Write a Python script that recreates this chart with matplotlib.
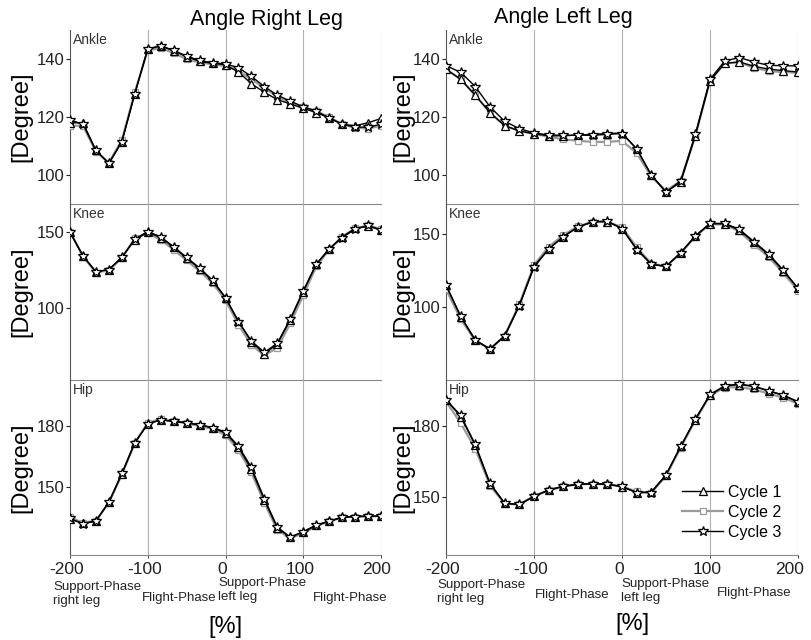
import matplotlib
matplotlib.use("Agg")
import matplotlib.pyplot as plt
from matplotlib.lines import Line2D
from matplotlib.ticker import FuncFormatter
from matplotlib.transforms import ScaledTranslation

plt.rcParams['font.family'] = ['Liberation Sans', 'DejaVu Sans']
plt.rcParams['axes.unicode_minus'] = False

# ---------------- data ----------------
x_pct = [-200, -183.3, -166.7, -150, -133.3, -116.7, -100, -83.3, -66.7, -50, -33.3, -16.7,
         0, 16.7, 33.3, 50, 66.7, 83.3, 100, 116.7, 133.3, 150, 166.7, 183.3, 200]

cycle_labels = ["Cycle 1", "Cycle 2", "Cycle 3"]
column_titles = ["Angle Right Leg", "Angle Left Leg"]
joint_names = ["Ankle", "Knee", "Hip"]
xticks = [-200, -100, 0, 100, 200]

# Right leg
r_ankle_c1 = [118, 118, 108.5, 104, 111.5, 128, 143.5, 144.5, 142.8, 140.8, 139.2, 138.5, 138,
              135.5, 131.5, 128.5, 126, 124.5, 123, 121.5, 119.7, 117.5, 117, 118, 119.5]
r_ankle_c2 = [117, 117, 108, 104.3, 112, 128.5, 143, 143.8, 142, 140, 138.8, 138.2, 137.5,
              136, 133, 130, 127, 125, 123.5, 122, 120, 117.5, 116.3, 116, 117]
r_ankle_c3 = [119, 117.5, 108.5, 104, 111.5, 128, 143.5, 144.5, 143, 141, 139.5, 138.7, 138.3,
              137, 134, 130.5, 127.5, 125.5, 123.5, 122, 119.7, 117.5, 116.5, 116.5, 117.5]

r_knee_c1 = [150, 134.5, 124, 125.5, 133.5, 145, 150, 146.5, 140, 133, 126, 118, 107,
             91.5, 78, 70, 76.5, 92.5, 111, 129, 139, 147, 152.5, 154, 151.5]
r_knee_c2 = [150.5, 134, 123.5, 125, 133, 146, 149.5, 145, 138.5, 131.5, 124.5, 116.5, 105.5,
             89, 76, 69, 74, 90, 108.5, 127.5, 138.5, 147, 152.5, 154.5, 152]
r_knee_c3 = [150, 134.5, 124, 125.5, 133.5, 145.5, 150.5, 147, 140.5, 133.5, 126.5, 118.5, 107,
             91, 78.5, 71, 77, 93, 111.5, 129, 139, 146.5, 152, 154.5, 151.5]

r_hip_c1 = [134, 131.8, 133, 142.2, 156.3, 171.5, 181, 183, 182.3, 181.6, 180.5, 179.1, 176.5,
            169.4, 158.6, 143.4, 129.5, 125, 127.6, 130.8, 132.8, 134.8, 135.2, 135.3, 135.4]
r_hip_c2 = [135, 132, 133.2, 142, 156, 171.5, 181.5, 183.5, 182.5, 181.2, 180, 178.5, 175.5,
            168, 157, 142, 128.5, 124.5, 127, 130.5, 132.8, 134.8, 135.2, 135.3, 135.4]
r_hip_c3 = [134.3, 131.6, 133, 142.4, 156.5, 171.8, 181, 183, 182.2, 181.5, 180.5, 179.2, 177,
            170, 159.5, 144, 130, 125, 127.8, 131, 133, 134.8, 135.2, 135.4, 135.4]

# Left leg
l_ankle_c1 = [136.5, 133, 127.5, 121.5, 117, 115.2, 114.2, 113.5, 113.5, 113.8, 114, 114.3, 114.5,
              109, 100, 94.2, 97.5, 113.5, 132.5, 138.5, 139, 137.5, 136.5, 136, 135.5]
l_ankle_c2 = [136.5, 133, 127.5, 121.5, 117, 115.2, 114.2, 113.2, 112.3, 111.8, 111.4, 111.4, 111.8,
              107.5, 99.5, 94.5, 98, 113.5, 132.5, 138.5, 138.8, 137, 135.8, 135.5, 135.3]
l_ankle_c3 = [137.7, 135.4, 130.5, 123.5, 118.5, 116, 114.5, 113.8, 113.7, 113.7, 113.7, 114, 114.3,
              109, 100, 94, 98, 114, 133, 139.3, 140.5, 139, 137.8, 137.7, 137.6]

l_knee_c1 = [115, 93.6, 77.5, 71.5, 80.5, 101.5, 128, 140, 148.5, 155, 158.5, 158.8, 154,
             140, 129.5, 128, 137.3, 148.7, 157.3, 157.2, 153, 144.5, 136, 125, 113]
l_knee_c2 = [112.3, 92, 77, 71.5, 80.5, 102, 129, 141.5, 149.5, 155.5, 158.5, 158.5, 155,
             141, 130, 128, 137, 148.5, 157, 156.8, 152, 143, 134.5, 123.5, 111.5]
l_knee_c3 = [115.3, 94, 77.5, 71.3, 80.3, 101, 127.5, 140, 148.3, 155, 158.8, 159, 154,
             139.5, 129.5, 128, 137.5, 149, 157.5, 157.5, 153.5, 145, 136.5, 125.5, 113]

l_hip_c1 = [191.2, 184, 172, 155.6, 147.5, 147, 150.4, 153, 154.6, 155.5, 155.7, 155.5, 154.5,
            152, 152.3, 159.5, 171.5, 182.8, 193.2, 196.9, 197.6, 196.7, 194.9, 193, 190.2]
l_hip_c2 = [190.5, 181.3, 170.5, 155, 147.3, 147, 150.6, 153, 154.6, 155.5, 155.7, 155.5, 154.5,
            152.5, 152, 159, 171, 182.5, 193, 196.3, 196.5, 195.5, 193.8, 192, 189.5]
l_hip_c3 = [191.2, 184.6, 172.3, 156, 147.5, 147, 150.4, 153.2, 154.7, 155.6, 155.8, 155.6, 154.6,
            152, 152, 159.5, 171.5, 183, 193.4, 197, 197.8, 196.9, 195, 193.1, 190.4]

right_leg = [[r_ankle_c1, r_ankle_c2, r_ankle_c3],
             [r_knee_c1, r_knee_c2, r_knee_c3],
             [r_hip_c1, r_hip_c2, r_hip_c3]]
left_leg = [[l_ankle_c1, l_ankle_c2, l_ankle_c3],
            [l_knee_c1, l_knee_c2, l_knee_c3],
            [l_hip_c1, l_hip_c2, l_hip_c3]]

right_ylims = [(90, 150), (52.8, 168.6), (116.2, 202.7)]
left_ylims = [(90, 150), (50.2, 170.8), (125.7, 199.5)]
yticks_rows = [[100, 120, 140], [100, 150], [150, 180]]

phase_texts = ["Support-Phase\nright leg", "Flight-Phase", "Support-Phase\nleft leg", "Flight-Phase"]

# ---------------- style ----------------
W, H = 811, 640
styles = [dict(color='black', marker='^', lw=1.0, ms=5.5, mfc='white', mec='black', mew=0.9),
          dict(color='#9a9a9a', marker='s', lw=1.6, ms=5, mfc='white', mec='#9a9a9a', mew=0.9),
          dict(color='black', marker='*', lw=1.0, ms=7, mfc='white', mec='black', mew=0.9)]

fig = plt.figure(figsize=(W / 100, H / 100), dpi=100)


def px_axes(x0, y0, x1, y1):
    return fig.add_axes([x0 / W, 1 - y1 / H, (x1 - x0) / W, (y1 - y0) / H])


col_x = [(70, 381), (446, 798)]
row_y = [(30, 204), (204, 380), (380, 555)]
label_right_edge = [32, 414]
datasets = [right_leg, left_leg]
ylims_all = [right_ylims, left_ylims]
axes = [[None] * 3 for _ in range(2)]

fmt = FuncFormatter(lambda v, p: "%d" % v)

for c in range(2):
    for r in range(3):
        x0, x1 = col_x[c]
        y0, y1 = row_y[r]
        ax = px_axes(x0, y0, x1, y1)
        axes[c][r] = ax
        for k in range(3):
            ax.plot(x_pct, datasets[c][r][k], zorder=3 + (k != 1), **styles[k])
        ax.set_xlim(-200, 200)
        ax.set_ylim(*ylims_all[c][r])
        ax.set_yticks(yticks_rows[r])
        ax.set_xticks(xticks)
        ax.xaxis.set_major_formatter(fmt)
        for xv in [-100, 0, 100, 200]:
            ax.axvline(xv, color='#b0b0b0', lw=0.8, zorder=1)
        ax.spines['top'].set_visible(False)
        ax.spines['right'].set_visible(False)
        ax.spines['left'].set_color('#555555')
        ax.spines['bottom'].set_color('#888888')
        ax.tick_params(axis='y', direction='out', length=3, width=0.8, labelsize=12, pad=1,
                       colors='#222222')
        ax.tick_params(axis='x', direction='out', length=2, width=0.6, labelsize=12.5, pad=3,
                       colors='#222222')
        if r < 2:
            ax.tick_params(axis='x', labelbottom=False, length=0)
        ax.set_ylabel("[Degree]", fontsize=17)
        lx = (label_right_edge[c] - x0) / (x1 - x0)
        ax.yaxis.set_label_coords(lx, 0.5)
        ax.text(0.008, 0.985, joint_names[r], transform=ax.transAxes, fontsize=10,
                va='top', ha='left', color='#333333')
        ax.set_facecolor('none')

# nudge the bottom tick labels slightly left, as in the reference
for c in range(2):
    ax = axes[c][2]
    fig.canvas.draw()
    for i, lab in enumerate(ax.get_xticklabels()):
        dx = -3 / 100 if i < len(xticks) - 1 else -(4 if c == 0 else 8) / 100
        lab.set_transform(lab.get_transform() + ScaledTranslation(dx, 0, fig.dpi_scale_trans))

# titles
fig.text(266 / W, 1 - 20 / H, column_titles[0], fontsize=15.5, ha='center', va='center')
fig.text(563 / W, 1 - 17 / H, column_titles[1], fontsize=15.5, ha='center', va='center')

# phase labels
left_pos = [(53, 594), (142, 598), (218, 590), (313, 598)]
right_pos = [(437, 592), (535, 595), (621, 591), (717, 593)]
for pos_list in [left_pos, right_pos]:
    for (px, py), t in zip(pos_list, phase_texts):
        fig.text(px / W, 1 - py / H, t, fontsize=9.5, ha='left', va='center',
                 linespacing=1.2, color='#222222')

fig.text(225 / W, 1 - 627 / H, "[%]", fontsize=17, ha='center', va='center')
fig.text(632 / W, 1 - 624 / H, "[%]", fontsize=17, ha='center', va='center')

# legend
handles = [Line2D([], [], **styles[k]) for k in range(3)]
axh = axes[1][2]
axh.legend(handles, cycle_labels, loc='upper left', bbox_to_anchor=(0.67, 0.40),
           frameon=False, fontsize=11.5, handlelength=2.6, handletextpad=0.3,
           labelspacing=0.3, borderpad=0, borderaxespad=0)

fig.savefig("out.png", dpi=100, facecolor='white')
